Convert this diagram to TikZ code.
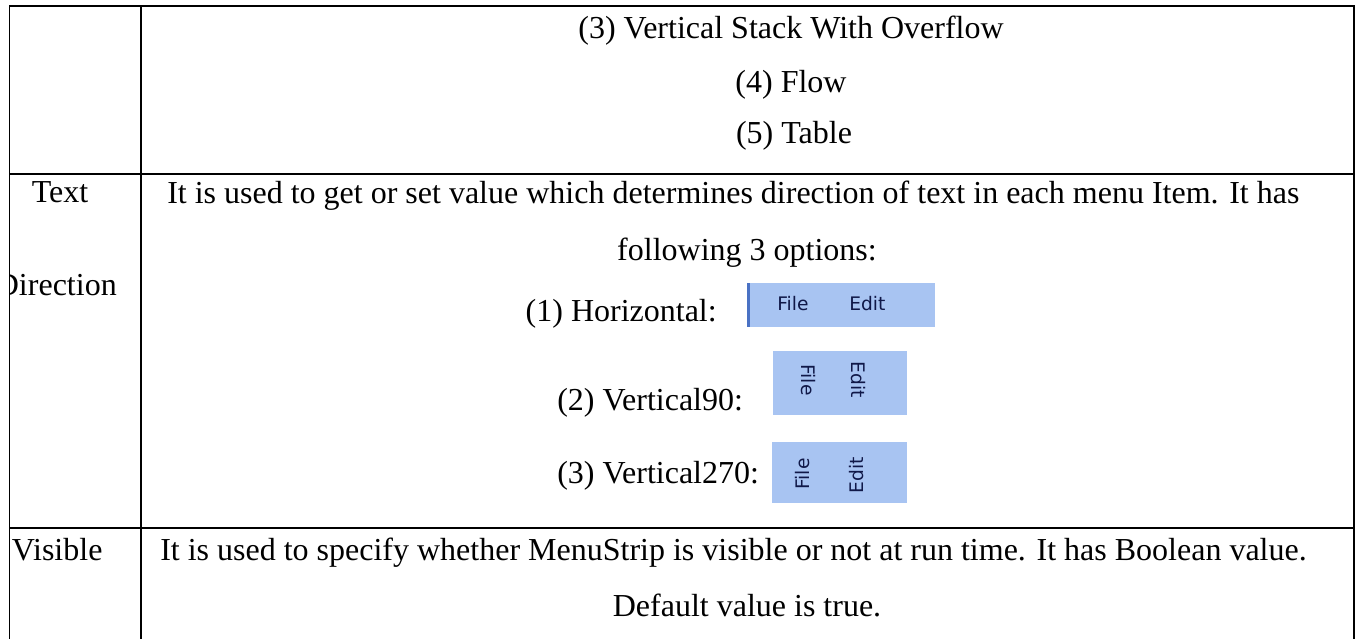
\documentclass[tikz,border=0pt]{standalone}
\usepackage{fontspec}
\setmainfont{Liberation Serif}
\newfontfamily\menufont{DejaVu Sans}
\definecolor{menublue}{HTML}{A8C4F2}
\definecolor{menuedge}{HTML}{4A72C4}
\definecolor{menuink}{HTML}{101848}
\begin{document}
\begin{tikzpicture}[x=0.75pt,y=-0.75pt,
  rule/.style={line width=1.1pt, black},
  celltext/.style={inner sep=0pt, font=\fontsize{24}{28}\selectfont},
  menubar/.style={fill=menublue, draw=none},
  menuitem/.style={inner sep=0pt, text=menuink, font=\menufont\fontsize{14}{16}\selectfont}]
\useasboundingbox (0,0) rectangle (1364,639);
\fill[white] (0,0) rectangle (1364,639);

% table rules
\draw[rule] (9.5,639) -- (9.5,6) -- (1354,6) -- (1354,639);
\draw[rule] (141,6) -- (141,639);
\draw[rule] (9.5,174) -- (1354,174);
\draw[rule] (9.5,528) -- (1354,528);

% first row (continued list of layout styles)
\node[celltext, anchor=base] (o3) at (791,38) {(3) Vertical Stack With Overflow};
\node[celltext, anchor=base] (o4) at (791,92) {(4) Flow};
\node[celltext, anchor=base] (o5) at (794,143) {(5) Table};

% property names, clipped at the cell's left border
\begin{scope}
  \clip (9.5,174) rectangle (141,528);
  \node[celltext, anchor=base] (k1a) at (60,202) {Text};
  \node[celltext, anchor=base east] (k1b) at (117,295) {Direction};
\end{scope}
\node[celltext, anchor=base west] (k2) at (11.7,560) {Visible};

% TextDirection description
\node[celltext, anchor=base west] (d1a) at (167,203) {It is used to get or set value which determines direction of text in each menu Item. It has};
\node[celltext, anchor=base] (d1b) at (747,260) {following 3 options:};
\node[celltext, anchor=base east] (h1) at (717,321) {(1) Horizontal:};
\node[celltext, anchor=base west] (h2) at (557,410) {(2) Vertical90:};
\node[celltext, anchor=base west] (h3) at (557,483) {(3) Vertical270:};

% horizontal menu strip
\path[menubar] (747,283) rectangle (935,327);
\fill[menuedge] (747,283) rectangle (749.5,327);
\node[menuitem, anchor=base west] (m1a) at (777,310) {File};
\node[menuitem, anchor=base west] (m1b) at (849,310) {Edit};

% vertical 90 menu strip
\path[menubar] (773,351) rectangle (907,415);
\node[menuitem, rotate=-90] (m2a) at (808,380) {File};
\node[menuitem, rotate=-90] (m2b) at (858,380) {Edit};

% vertical 270 menu strip
\path[menubar] (772,442) rectangle (907,503);
\node[menuitem, rotate=90] (m3a) at (803,474) {File};
\node[menuitem, rotate=90] (m3b) at (857,475) {Edit};

% Visible description
\node[celltext, anchor=base west] (v1) at (160,560) {It is used to specify whether MenuStrip is visible or not at run time. It has Boolean value.};
\node[celltext, anchor=base] (v2) at (747,616) {Default value is true.};
\end{tikzpicture}
\end{document}
